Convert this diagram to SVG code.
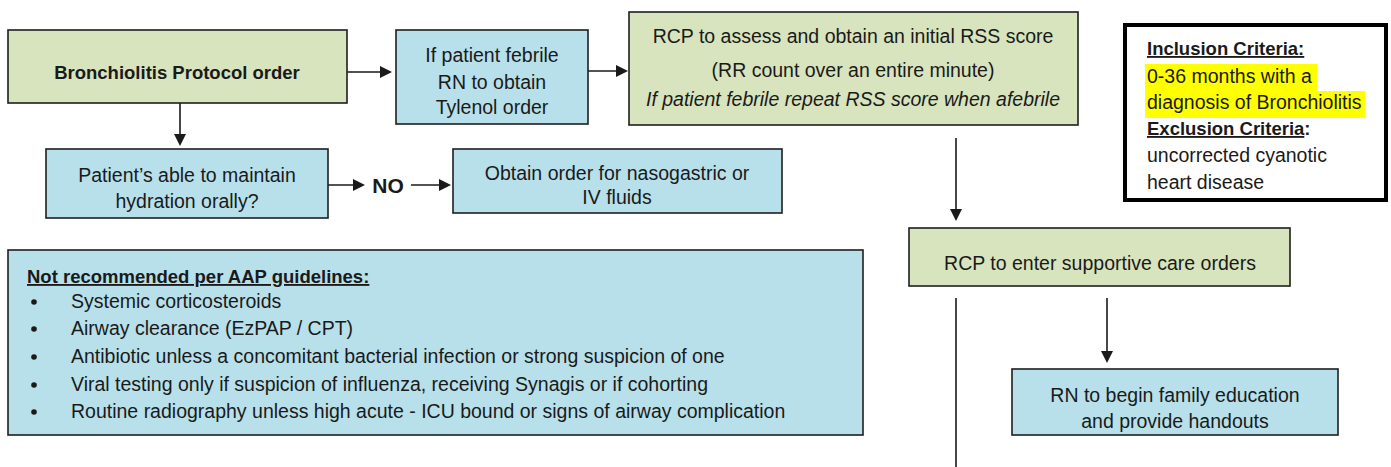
<svg xmlns="http://www.w3.org/2000/svg" width="1391" height="467" viewBox="0 0 1391 467">
<style>
text{font-family:"Liberation Sans",Arial,sans-serif;font-size:19.5px;fill:#1a1a1a}
.c{text-anchor:middle}
.b{font-weight:bold;font-size:18.5px}
.i{font-style:italic}
.u{text-decoration:underline}
.g{fill:#d7e4bd;stroke:#1e1e1e;stroke-width:1.6}
.bl{fill:#b7e0ea;stroke:#1e1e1e;stroke-width:1.6}
.ln{stroke:#1a1a1a;stroke-width:1.6;fill:none}
.hl{fill:#ffff00}
</style>
<defs>
<marker id="ah" markerWidth="12" markerHeight="12" refX="10" refY="6" orient="auto" markerUnits="userSpaceOnUse">
<path d="M0,0 L12,6 L0,12 z" fill="#1a1a1a"/>
</marker>
</defs>
<g id="connectors">
<line class="ln" x1="347" y1="72" x2="390" y2="72" marker-end="url(#ah)"/>
<line class="ln" x1="588" y1="71" x2="626" y2="71" marker-end="url(#ah)"/>
<line class="ln" x1="180" y1="103" x2="180" y2="144" marker-end="url(#ah)"/>
<line class="ln" x1="328" y1="185" x2="363" y2="185" marker-end="url(#ah)"/>
<line class="ln" x1="411" y1="185" x2="449" y2="185" marker-end="url(#ah)"/>
<line class="ln" x1="956" y1="138" x2="956" y2="219" marker-end="url(#ah)"/>
<line class="ln" x1="1107" y1="298" x2="1107" y2="361" marker-end="url(#ah)"/>
<line class="ln" x1="956" y1="298" x2="956" y2="467"/>
</g>
<g id="protocol-order">
<rect class="g" x="8" y="30" width="339" height="73"/>
<text class="c b" x="177" y="79">Bronchiolitis Protocol order</text>
</g>
<g id="febrile-tylenol">
<rect class="bl" x="396" y="30" width="192" height="94"/>
<text class="c" x="492" y="62">If patient febrile</text>
<text class="c" x="492" y="89">RN to obtain</text>
<text class="c" x="492" y="114">Tylenol order</text>
</g>
<g id="rss-score">
<rect class="g" x="629" y="12" width="449" height="113"/>
<text class="c" x="853" y="43">RCP to assess and obtain an initial RSS score</text>
<text class="c" x="853" y="77">(RR count over an entire minute)</text>
<text class="c i" x="853" y="106">If patient febrile repeat RSS score when afebrile</text>
</g>
<g id="criteria">
<rect x="1125" y="25" width="261" height="175" fill="#ffffff" stroke="#000" stroke-width="4"/>
<rect class="hl" x="1145" y="64" width="172" height="27"/>
<rect class="hl" x="1145" y="91" width="220" height="27"/>
<text class="b u" x="1147" y="55">Inclusion Criteria:</text>
<text x="1147" y="83">0-36 months with a</text>
<text x="1147" y="109">diagnosis of Bronchiolitis</text>
<text class="b" x="1147" y="135"><tspan class="u">Exclusion Criteria</tspan>:</text>
<text x="1147" y="162">uncorrected cyanotic</text>
<text x="1147" y="189">heart disease</text>
</g>
<g id="hydration">
<rect class="bl" x="46" y="149" width="282" height="69"/>
<text class="c" x="187" y="182">Patient’s able to maintain</text>
<text class="c" x="187" y="208">hydration orally?</text>
</g>
<g id="no-label">
<text class="c b" x="388" y="193" style="font-size:21px">NO</text>
</g>
<g id="iv-fluids">
<rect class="bl" x="453" y="149" width="329" height="64"/>
<text class="c" x="617" y="180">Obtain order for nasogastric or</text>
<text class="c" x="617" y="204">IV fluids</text>
</g>
<g id="not-recommended">
<rect class="bl" x="8" y="250" width="855" height="185"/>
<text class="b u" x="27" y="283">Not recommended per AAP guidelines:</text>
<g>
<circle cx="34" cy="302" r="2.8" fill="#1a1a1a"/>
<circle cx="34" cy="329" r="2.8" fill="#1a1a1a"/>
<circle cx="34" cy="357" r="2.8" fill="#1a1a1a"/>
<circle cx="34" cy="385" r="2.8" fill="#1a1a1a"/>
<circle cx="34" cy="412" r="2.8" fill="#1a1a1a"/>
</g>
<text x="71" y="308">Systemic corticosteroids</text>
<text x="71" y="335">Airway clearance (EzPAP / CPT)</text>
<text x="71" y="363">Antibiotic unless a concomitant bacterial infection or strong suspicion of one</text>
<text x="71" y="391">Viral testing only if suspicion of influenza, receiving Synagis or if cohorting</text>
<text x="71" y="418">Routine radiography unless high acute - ICU bound or signs of airway complication</text>
</g>
<g id="supportive-care">
<rect class="g" x="909" y="228" width="381" height="58"/>
<text class="c" x="1100" y="270">RCP to enter supportive care orders</text>
</g>
<g id="family-education">
<rect class="bl" x="1012" y="369" width="326" height="66"/>
<text class="c" x="1175" y="402">RN to begin family education</text>
<text class="c" x="1175" y="428">and provide handouts</text>
</g>
</svg>
